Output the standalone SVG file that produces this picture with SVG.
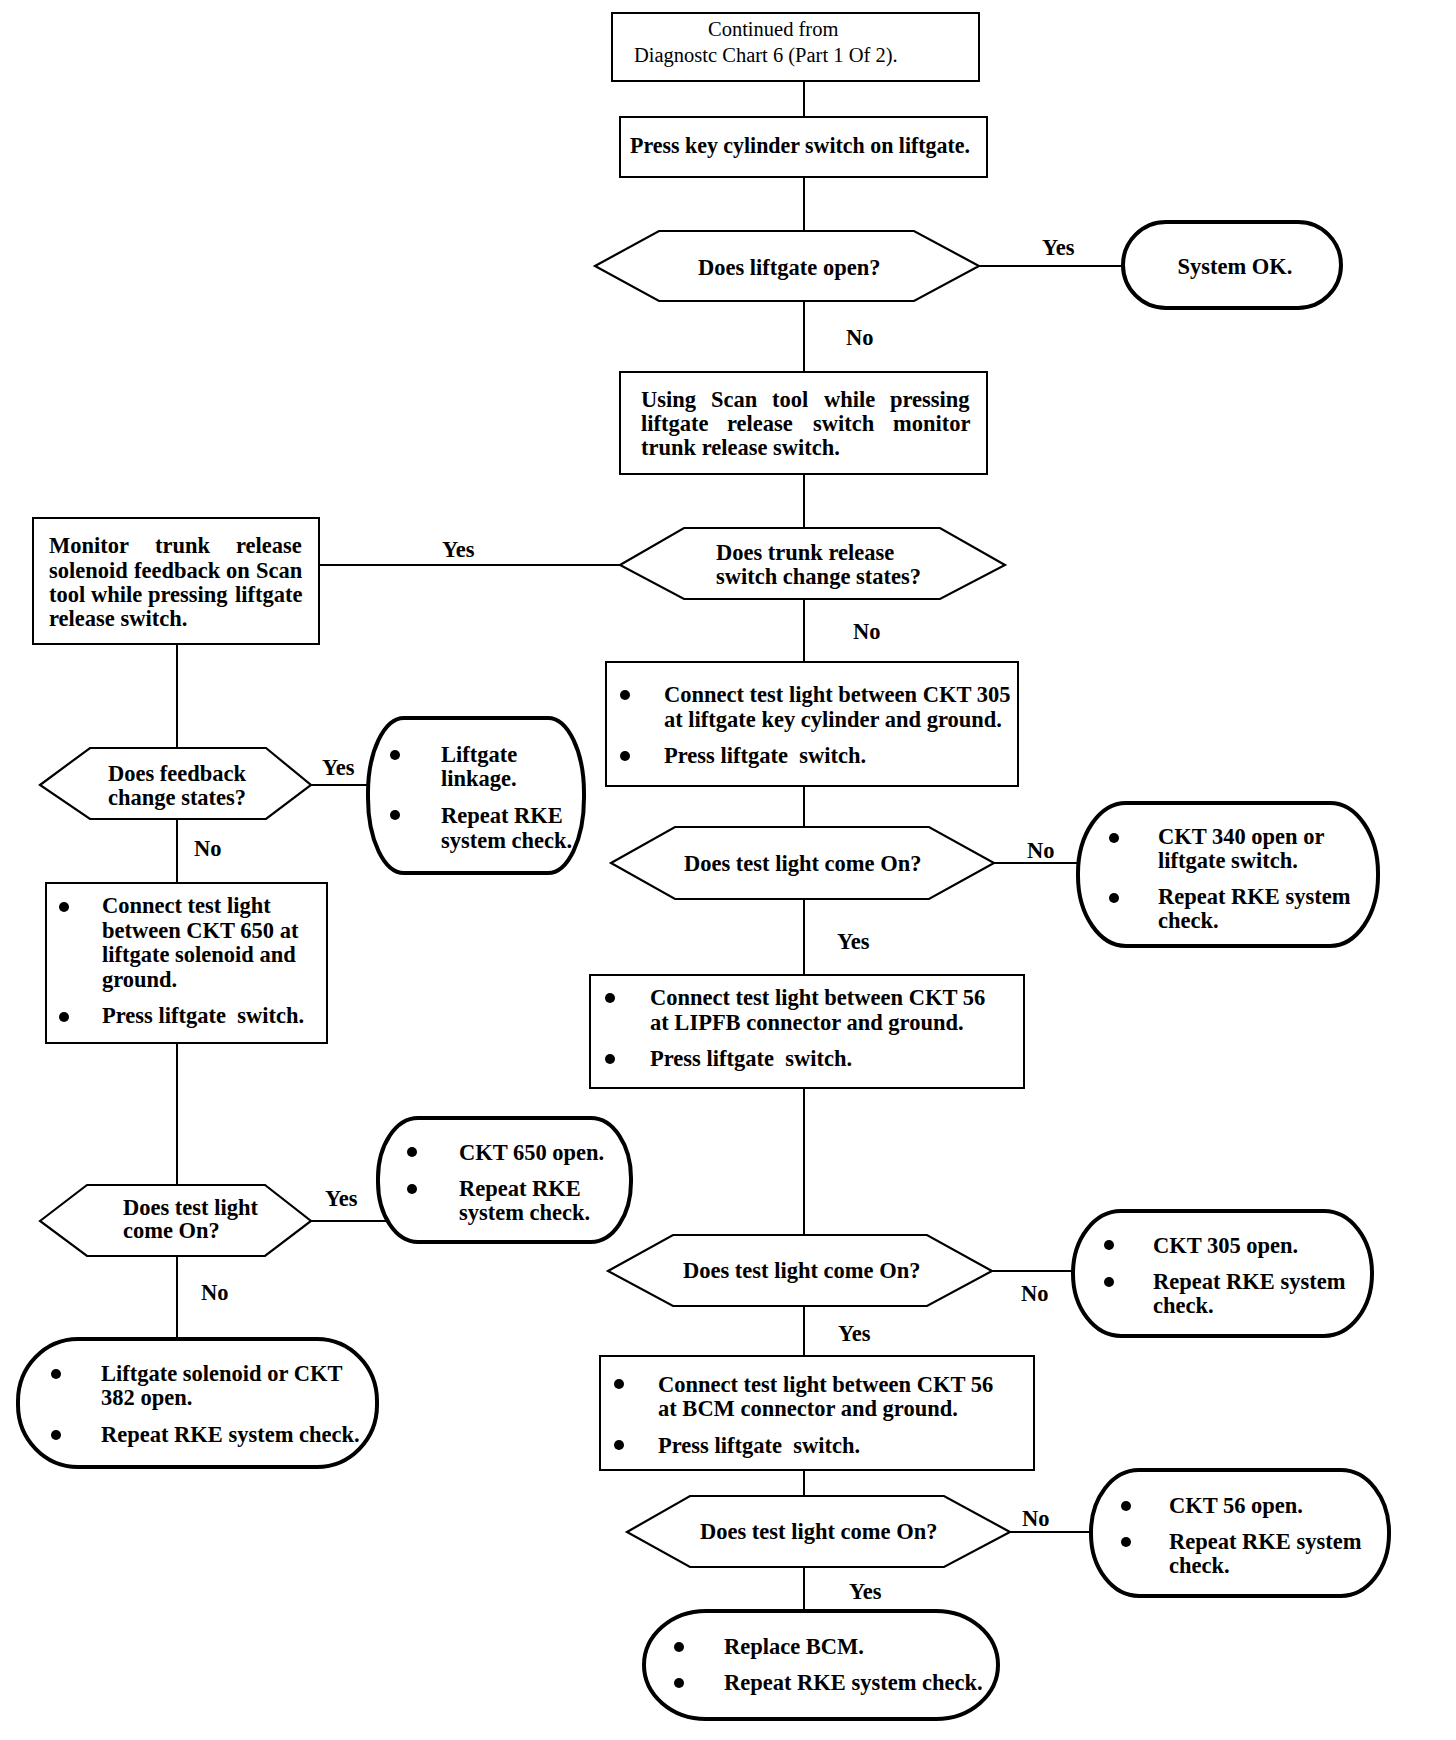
<svg xmlns="http://www.w3.org/2000/svg" width="1456" height="1740" viewBox="0 0 1456 1740">
<style>
.box{fill:#fff;stroke:#000;stroke-width:2}
.dia{fill:#fff;stroke:#000;stroke-width:2.2}
.term{fill:#fff;stroke:#000;stroke-width:4}
.conn{fill:none;stroke:#000;stroke-width:2}
text{font-family:"Liberation Serif","Times New Roman",serif;font-size:22.5px;font-weight:bold;fill:#000}
.thin{font-weight:normal;font-size:20.5px}
.mid{text-anchor:middle}
.pre{white-space:pre}
.bul{fill:#000}
</style>
<rect width="1456" height="1740" fill="#fff"/>
<g id="connectors">
<path class="conn" d="M804 81V117M804 177V231M804 301V372M804 474V528M804 599V662M804 786V827M804 899V975M804 1088V1235M804 1306V1356M804 1470V1496M804 1567V1611"/>
<path class="conn" d="M177 644V748M177 819V883M177 1043V1185M177 1256V1339"/>
<path class="conn" d="M979 266H1123M620 565H319M311 785H368M994 863H1078M311 1221H388M992 1271H1073M1010 1532H1091"/>
<text x="1042" y="255">Yes</text>
<text x="846" y="345">No</text>
<text x="442" y="557">Yes</text>
<text x="853" y="639">No</text>
<text x="322" y="775">Yes</text>
<text x="194" y="856">No</text>
<text x="1027" y="858">No</text>
<text x="837" y="949">Yes</text>
<text x="325" y="1206">Yes</text>
<text x="201" y="1300">No</text>
<text x="1021" y="1301">No</text>
<text x="838" y="1341">Yes</text>
<text x="1022" y="1526">No</text>
<text x="849" y="1599">Yes</text>
</g>
<g id="n1">
<rect class="box" x="612" y="13" width="367" height="68"/>
<text class="thin" x="708" y="36">Continued from</text>
<text class="thin" x="634" y="62">Diagnostc Chart 6 (Part 1 Of 2).</text>
</g>
<g id="n2">
<rect class="box" x="620" y="117" width="367" height="60"/>
<text x="630" y="153" textLength="340" lengthAdjust="spacingAndGlyphs">Press key cylinder switch on liftgate.</text>
</g>
<g id="d1">
<polygon class="dia" points="595,266 659,231 914,231 979,266 914,301 659,301"/>
<text x="698" y="275">Does liftgate open?</text>
</g>
<g id="t_ok">
<rect class="term" x="1123" y="222" width="218" height="86" rx="43" ry="43"/>
<text class="mid" x="1235" y="274">System OK.</text>
</g>
<g id="n3">
<rect class="box" x="620" y="372" width="367" height="102"/>
<text y="407"><tspan x="641">Using</tspan><tspan x="711">Scan</tspan><tspan x="772">tool</tspan><tspan x="824">while</tspan><tspan x="890">pressing</tspan></text>
<text y="431"><tspan x="641">liftgate</tspan><tspan x="727">release</tspan><tspan x="813">switch</tspan><tspan x="893">monitor</tspan></text>
<text x="641" y="455">trunk release switch.</text>
</g>
<g id="d2">
<polygon class="dia" points="620,565 684,528 940,528 1005,565 940,599 684,599"/>
<text x="716" y="560">Does trunk release</text>
<text x="716" y="584">switch change states?</text>
</g>
<g id="n4">
<rect class="box" x="33" y="518" width="286" height="126"/>
<text y="553"><tspan x="49">Monitor</tspan><tspan x="155">trunk</tspan><tspan x="236">release</tspan></text>
<text y="578"><tspan x="49">solenoid</tspan><tspan x="134">feedback</tspan><tspan x="226">on</tspan><tspan x="256">Scan</tspan></text>
<text y="602"><tspan x="49">tool</tspan><tspan x="91">while</tspan><tspan x="148">pressing</tspan><tspan x="235">liftgate</tspan></text>
<text x="49" y="626">release switch.</text>
</g>
<g id="n5">
<rect class="box" x="606" y="662" width="412" height="124"/>
<circle class="bul" cx="625" cy="695" r="5"/>
<circle class="bul" cx="625" cy="756" r="5"/>
<text x="664" y="702">Connect test light between CKT 305</text>
<text x="664" y="727">at liftgate key cylinder and ground.</text>
<text class="pre" x="664" y="763">Press liftgate  switch.</text>
</g>
<g id="d3">
<polygon class="dia" points="40,785 90,748 266,748 311,785 266,819 90,819"/>
<text x="108" y="781">Does feedback</text>
<text x="108" y="805">change states?</text>
</g>
<g id="t_link">
<rect class="term" x="368" y="718" width="216" height="155" rx="36" ry="75"/>
<circle class="bul" cx="395" cy="755" r="5"/>
<circle class="bul" cx="395" cy="815" r="5"/>
<text x="441" y="762">Liftgate</text>
<text x="441" y="786">linkage.</text>
<text x="441" y="823">Repeat RKE</text>
<text x="441" y="848">system check.</text>
</g>
<g id="d4">
<polygon class="dia" points="611,863 675,827 929,827 994,863 929,899 675,899"/>
<text x="684" y="871">Does test light come On?</text>
</g>
<g id="t_340">
<rect class="term" x="1078" y="803" width="300" height="143" rx="48" ry="70"/>
<circle class="bul" cx="1114" cy="838" r="5"/>
<circle class="bul" cx="1114" cy="898" r="5"/>
<text x="1158" y="844">CKT 340 open or</text>
<text x="1158" y="868">liftgate switch.</text>
<text x="1158" y="904">Repeat RKE system</text>
<text x="1158" y="928">check.</text>
</g>
<g id="n6">
<rect class="box" x="46" y="883" width="281" height="160"/>
<circle class="bul" cx="64" cy="907" r="5"/>
<circle class="bul" cx="64" cy="1017" r="5"/>
<text x="102" y="913">Connect test light</text>
<text x="102" y="938">between CKT 650 at</text>
<text x="102" y="962">liftgate solenoid and</text>
<text x="102" y="987">ground.</text>
<text class="pre" x="102" y="1023">Press liftgate  switch.</text>
</g>
<g id="n7">
<rect class="box" x="590" y="975" width="434" height="113"/>
<circle class="bul" cx="610" cy="998" r="5"/>
<circle class="bul" cx="610" cy="1059" r="5"/>
<text x="650" y="1005">Connect test light between CKT 56</text>
<text x="650" y="1030">at LIPFB connector and ground.</text>
<text class="pre" x="650" y="1066">Press liftgate  switch.</text>
</g>
<g id="d6">
<polygon class="dia" points="40,1221 87,1185 265,1185 311,1221 265,1256 87,1256"/>
<text x="123" y="1215">Does test light</text>
<text x="123" y="1238">come On?</text>
</g>
<g id="t_650">
<rect class="term" x="378" y="1118" width="253" height="124" rx="40" ry="60"/>
<circle class="bul" cx="412" cy="1152" r="5"/>
<circle class="bul" cx="412" cy="1189" r="5"/>
<text x="459" y="1160">CKT 650 open.</text>
<text x="459" y="1196">Repeat RKE</text>
<text x="459" y="1220">system check.</text>
</g>
<g id="t_382">
<rect class="term" x="18" y="1339" width="359" height="128" rx="60" ry="62"/>
<circle class="bul" cx="56" cy="1374" r="5"/>
<circle class="bul" cx="56" cy="1435" r="5"/>
<text x="101" y="1381">Liftgate solenoid or CKT</text>
<text x="101" y="1405">382 open.</text>
<text x="101" y="1442">Repeat RKE system check.</text>
</g>
<g id="d5">
<polygon class="dia" points="608,1271 673,1235 927,1235 992,1271 927,1306 673,1306"/>
<text x="683" y="1278">Does test light come On?</text>
</g>
<g id="t_305">
<rect class="term" x="1073" y="1211" width="299" height="125" rx="48" ry="62"/>
<circle class="bul" cx="1109" cy="1245" r="5"/>
<circle class="bul" cx="1109" cy="1282" r="5"/>
<text x="1153" y="1253">CKT 305 open.</text>
<text x="1153" y="1289">Repeat RKE system</text>
<text x="1153" y="1313">check.</text>
</g>
<g id="n8">
<rect class="box" x="600" y="1356" width="434" height="114"/>
<circle class="bul" cx="619" cy="1384" r="5"/>
<circle class="bul" cx="619" cy="1445" r="5"/>
<text x="658" y="1392">Connect test light between CKT 56</text>
<text x="658" y="1416">at BCM connector and ground.</text>
<text class="pre" x="658" y="1453">Press liftgate  switch.</text>
</g>
<g id="d7">
<polygon class="dia" points="627,1532 690,1496 944,1496 1010,1532 944,1567 690,1567"/>
<text x="700" y="1539">Does test light come On?</text>
</g>
<g id="t_56">
<rect class="term" x="1091" y="1470" width="298" height="126" rx="48" ry="62"/>
<circle class="bul" cx="1126" cy="1506" r="5"/>
<circle class="bul" cx="1126" cy="1542" r="5"/>
<text x="1169" y="1513">CKT 56 open.</text>
<text x="1169" y="1549">Repeat RKE system</text>
<text x="1169" y="1573">check.</text>
</g>
<g id="t_bcm">
<rect class="term" x="644" y="1611" width="354" height="108" rx="62" ry="54"/>
<circle class="bul" cx="679" cy="1647" r="5"/>
<circle class="bul" cx="679" cy="1683" r="5"/>
<text x="724" y="1654">Replace BCM.</text>
<text x="724" y="1690">Repeat RKE system check.</text>
</g>
</svg>
